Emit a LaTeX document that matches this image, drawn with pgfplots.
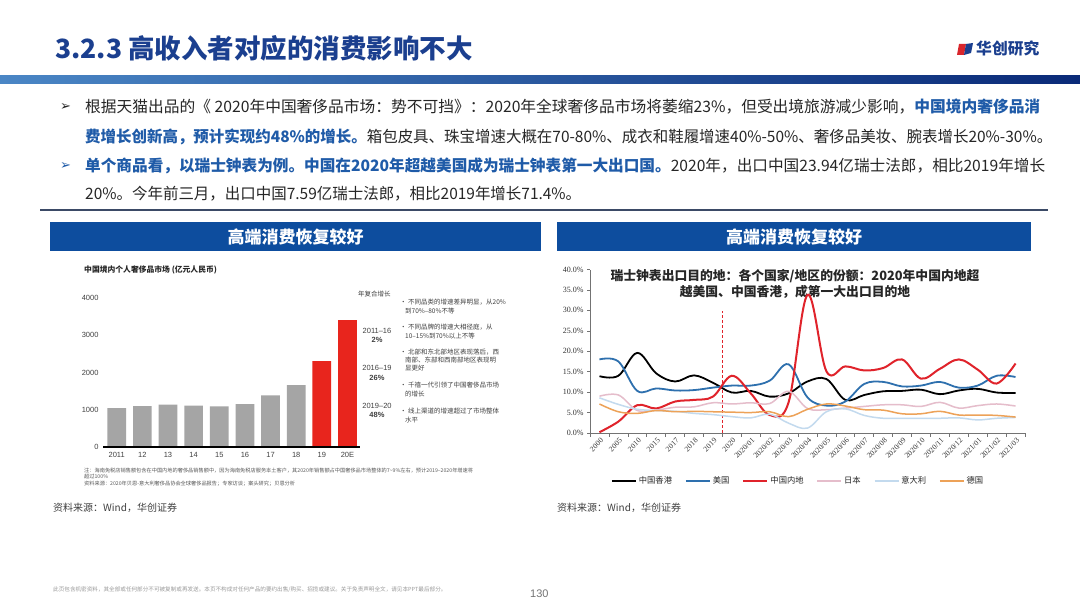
\documentclass[border=0pt]{standalone}
\usepackage{fontspec}
\usepackage{graphicx}
\usepackage{pgfplots}
\usepackage{pgfplotstable}
\pgfplotsset{compat=1.18}
\setmainfont{Noto Sans CJK SC}
\newfontfamily\tnr{Liberation Serif}
\newfontfamily\arial{Liberation Sans}
\newfontfamily\dejavu{DejaVu Sans}
\definecolor{titleblue}{HTML}{1B3F8F}
\definecolor{hlblue}{HTML}{1F5BA8}
\definecolor{hdrblue}{HTML}{0D4D9E}
\definecolor{txt}{HTML}{262626}
\definecolor{bandL}{HTML}{4A86C5}
\definecolor{bandR}{HTML}{0A2A78}
\definecolor{sepc}{HTML}{3B4A66}
\definecolor{bargrey}{HTML}{A5A5A5}
\definecolor{barred}{HTML}{E8251D}
\definecolor{logored}{HTML}{D9262C}
\definecolor{sblue}{HTML}{2E70AE}
\definecolor{sred}{HTML}{E0232B}
\definecolor{spink}{HTML}{E5BDCB}
\definecolor{slblue}{HTML}{C3DAEE}
\definecolor{sorange}{HTML}{EDA258}
\newcommand\hl[1]{\textcolor{hlblue}{\bfseries #1}}
\newcommand\fs[1]{\fontsize{#1}{#1}\selectfont}

\pgfplotstableread{
i hk us cn jp it de
0 13.9 18.0 0.2 9.0 8.6 7.1
1 14.0 17.5 2.8 9.3 7.0 5.2
2 19.6 10.3 6.8 5.5 5.8 4.8
3 14.6 10.9 6.0 5.6 5.5 5.5
4 12.6 10.4 7.7 6.3 5.3 5.2
5 14.1 10.5 8.1 6.4 4.8 5.3
6 12.3 11.1 8.9 7.4 4.5 5.2
7 9.9 11.6 14.0 7.1 4.0 5.1
8 10.3 11.6 9.7 7.4 3.7 5.0
9 8.9 12.8 4.4 7.2 4.6 5.2
10 9.7 16.8 7.5 10.2 2.4 4.0
11 12.6 8.7 33.8 6.0 1.2 5.8
12 13.2 6.7 15.1 5.7 5.2 7.1
13 8.1 7.7 16.3 6.1 5.9 6.6
14 9.3 12.0 15.3 6.5 4.3 5.7
15 10.2 12.5 15.9 6.9 3.6 5.6
16 10.3 11.4 18.0 6.9 3.6 4.7
17 10.6 11.6 13.3 6.5 3.6 4.7
18 9.5 12.5 15.7 7.5 3.6 5.3
19 10.4 11.1 18.0 6.1 3.7 4.4
20 10.8 11.6 15.5 6.7 3.2 4.4
21 9.9 14.0 12.1 7.1 3.6 4.3
22 9.8 13.7 17.0 6.6 3.8 3.9
}\linedata

\begin{document}
\begin{tikzpicture}[x=1pt,y=1pt]
\path[use as bounding box] (0,0) rectangle (1080,608);
\fill[white] (0,0) rectangle (1080,608);

% title
\node[anchor=west, inner sep=0pt, text=titleblue, font=\bfseries\fs{26.5}] at (55,560) {3.2.3 高收入者对应的消费影响不大};
% logo
\fill[logored] (957,553) -- (964,553) -- (966,564) -- (959,564) -- cycle;
\fill[titleblue] (964,553) -- (971,555) -- (973,565) -- (966,564) -- cycle;
\node[anchor=west, inner sep=0pt, text=titleblue, font=\bfseries\fs{15.8}] at (976,560) {华创研究};
% band
\shade[left color=bandL, right color=bandR] (0,524) rectangle (1080,532);

% bullets
\node[anchor=west, inner sep=0pt, text=txt, font=\dejavu\fs{13}] at (60,501) {➢};
\node[anchor=west, inner sep=0pt, text=hlblue, font=\dejavu\fs{13}] at (60,442) {➢};
\begin{scope}[every node/.style={anchor=west, inner sep=0pt, text=txt, font=\fs{15.7}}]
\node at (85,501) {\resizebox{955pt}{\height}{根据天猫出品的《 2020年中国奢侈品市场：势不可挡》：2020年全球奢侈品市场将萎缩23\%，但受出境旅游减少影响，\hl{中国境内奢侈品消}}};
\node at (85,471) {\resizebox{967pt}{\height}{\hl{费增长创新高，预计实现约48\%的增长。}箱包皮具、珠宝增速大概在70-80\%、成衣和鞋履增速40\%-50\%、奢侈品美妆、腕表增长20\%-30\%。}};
\node at (85,442) {\resizebox{960pt}{\height}{\hl{单个商品看，以瑞士钟表为例。中国在2020年超越美国成为瑞士钟表第一大出口国。}2020年，出口中国23.94亿瑞士法郎，相比2019年增长}};
\node at (85,414) {\resizebox{496pt}{\height}{20\%。今年前三月，出口中国7.59亿瑞士法郎，相比2019年增长71.4\%。}};
\end{scope}
\draw[line width=2pt, draw=sepc] (40,398) -- (1048,398);

% headers
\fill[hdrblue] (50,357) rectangle (541,386);
\fill[hdrblue] (557,357) rectangle (1031,386);
\node[text=white, font=\bfseries\fs{17}] at (295.5,371.5) {高端消费恢复较好};
\node[text=white, font=\bfseries\fs{17}] at (794,371.5) {高端消费恢复较好};

% left chart texts
\node[anchor=west, inner sep=0pt, text=black!85, font=\bfseries\fs{7.8}] at (84,338) {中国境内个人奢侈品市场 (亿元人民币)};
\begin{scope}[every node/.style={inner sep=0pt, text=black!75, font=\fs{6.5}}]
\node[anchor=west] at (358,314) {年复合增长};
\node[font=\arial\fs{7.5}] at (377,277) {2011–16};
\node[font=\arial\bfseries\fs{7.5}] at (377,268) {2\%};
\node[font=\arial\fs{7.5}] at (377,240) {2016–19};
\node[font=\arial\bfseries\fs{7.5}] at (377,230) {26\%};
\node[font=\arial\fs{7.5}] at (377,202) {2019–20};
\node[font=\arial\bfseries\fs{7.5}] at (377,193) {48\%};
\node[anchor=west] at (400,306) {• 不同品类的增速差异明显，从20\%};
\node[anchor=west] at (405,297) {到70\%–80\%不等};
\node[anchor=west] at (400,281) {• 不同品牌的增速大相径庭，从};
\node[anchor=west] at (405,272) {10–15\%到70\%以上不等};
\node[anchor=west] at (400,256) {• 北部和东北部地区表现落后，西};
\node[anchor=west] at (405,248) {南部、东部和西南部地区表现明};
\node[anchor=west] at (405,240) {显更好};
\node[anchor=west] at (400,223) {• 千禧一代引领了中国奢侈品市场};
\node[anchor=west] at (405,214) {的增长};
\node[anchor=west] at (400,197) {• 线上渠道的增速超过了市场整体};
\node[anchor=west] at (405,188) {水平};
\end{scope}
\begin{scope}[every node/.style={anchor=west, inner sep=0pt, text=black!65, font=\fs{5.2}}]
\node at (84,137) {注：海南免税店销售额包含在中国内地的奢侈品销售额中，因为海南免税店服务本土客户，其2020年销售额占中国奢侈品市场整体的7\textasciitilde9\%左右，预计2019–2020年增速将};
\node at (84,131) {超过100\%};
\node at (84,124) {资料来源：2020年贝恩-意大利奢侈品协会全球奢侈品报告；专家访谈；案头研究；贝恩分析};
\end{scope}
\node[anchor=west, inner sep=0pt, text=black!75, font=\fs{10}] at (53,100) {资料来源：Wind，华创证券};
\node[anchor=west, inner sep=0pt, text=black!75, font=\fs{10}] at (557,100) {资料来源：Wind，华创证券};

% footer
\node[anchor=west, inner sep=0pt, text=black!40, font=\fs{5.6}] at (53,18) {此页包含机密资料，其全部或任何部分不可被复制或再发送。本页不构成对任何产品的要约出售/购买、招揽或建议。关于免责声明全文，请见本PPT最后部分。};
\node[anchor=west, inner sep=0pt, text=black!55, font=\arial\fs{11}] at (530,14) {130};

% bar chart
\begin{axis}[at={(103pt,161.3pt)}, anchor=south west, scale only axis,
  width=257.3pt, height=148.4pt, xmin=-0.535, xmax=9.5, ymin=0, ymax=4000,
  axis x line=bottom, axis y line=left, axis on top,
  x axis line style={-, black, line width=1.8pt},
  y axis line style={draw=none},
  major tick length=0pt,
  xtick={0,...,9}, xticklabels={2011,12,13,14,15,16,17,18,19,20E},
  ytick={0,1000,2000,3000,4000}, scaled y ticks=false,
  /pgf/number format/assume math mode=true,
  /pgf/number format/1000 sep={},
  tick label style={font=\arial\fs{7.5}, text=black!75},
  yticklabel style={xshift=-1pt},
  xticklabel style={yshift=-2pt},
  clip=false]
\addplot[ybar, bar width=18.7pt, bar shift=0pt, fill=bargrey, draw=none] coordinates {(0,1043)(1,1096)(2,1132)(3,1105)(4,1087)(5,1150)(6,1384)(7,1662)};
\addplot[ybar, bar width=18.7pt, bar shift=0pt, fill=barred, draw=none] coordinates {(8,2309)(9,3414)};
\end{axis}

% line chart
\node[inner sep=0pt, text=black!85, font=\bfseries\fs{12.8}] at (795,332.3) {瑞士钟表出口目的地：各个国家/地区的份额：2020年中国内地超};
\node[inner sep=0pt, text=black!85, font=\bfseries\fs{12.8}] at (795,316.3) {越美国、中国香港，成第一大出口目的地};
\begin{axis}[at={(590pt,175pt)}, anchor=south west, scale only axis,
  width=435pt, height=163.5pt, xmin=-0.5, xmax=22.5, ymin=0, ymax=40,
  axis x line=bottom, axis y line=left,
  axis line style={-, draw=black!55, line width=0.7pt},
  tick align=outside,
  xtick={0,...,22},
  xticklabels={2000,2005,2010,2015,2017,2018,2019,2020,2020/01,2020/02,2020/03,2020/04,2020/05,2020/06,2020/07,2020/08,2020/09,2020/10,2020/11,2020/12,2021/01,2021/02,2021/03},
  major x tick style={draw=none},
  minor xtick={-0.5,0.5,...,22.5},
  minor x tick style={draw=black!55, line width=0.6pt},
  minor tick length=4pt, major tick length=3pt,
  ytick={0,5,...,40},
  ytick style={draw=black!55, line width=0.6pt},
  /pgf/number format/assume math mode=true,
  yticklabel={\pgfmathprintnumber[fixed,fixed zerofill,precision=1]{\tick}\%},
  tick label style={font=\tnr\fs{8}, text=black!80},
  xticklabel style={font=\tnr\fs{7.6}, rotate=45, anchor=north east, inner sep=0.5pt, yshift=-1pt},
  legend columns=6,
  legend style={draw=none, fill=none, at={(0.048,-0.294)}, anchor=west, inner sep=0pt,
    font=\fs{8.3}, text=black!85,
    /tikz/every even column/.append style={column sep=11pt}},
  legend image code/.code={\draw[#1] (0pt,0pt) -- (24pt,0pt);},
  clip=false]
\addplot[forget plot, sred, densely dashed, line width=0.6pt] coordinates {(6.5,0)(6.5,29.8)};
\addplot[smooth, tension=0.6, black, line width=1.8pt] table[x=i,y=hk]{\linedata};
\addlegendentry{中国香港}
\addplot[smooth, tension=0.6, sblue, line width=1.8pt] table[x=i,y=us]{\linedata};
\addlegendentry{美国}
\addplot[smooth, tension=0.6, sred, line width=2pt] table[x=i,y=cn]{\linedata};
\addlegendentry{中国内地}
\addplot[smooth, tension=0.6, spink, line width=1.5pt] table[x=i,y=jp]{\linedata};
\addlegendentry{日本}
\addplot[smooth, tension=0.6, slblue, line width=1.5pt] table[x=i,y=it]{\linedata};
\addlegendentry{意大利}
\addplot[smooth, tension=0.6, sorange, line width=1.5pt] table[x=i,y=de]{\linedata};
\addlegendentry{德国}
\end{axis}
\end{tikzpicture}
\end{document}
